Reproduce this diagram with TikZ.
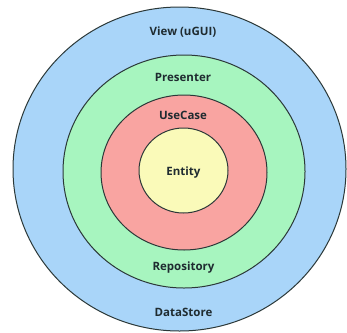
\documentclass[tikz,border=0pt]{standalone}
\usepackage{fontspec}
\setmainfont{Open Sans}
\definecolor{ringblue}{HTML}{A9D5F9}
\definecolor{ringgreen}{HTML}{A7F5BF}
\definecolor{ringred}{HTML}{F9A4A1}
\definecolor{ringyellow}{HTML}{FAFAB9}
\definecolor{ringline}{HTML}{2B3838}
\definecolor{labeltext}{HTML}{1F2B30}
\begin{document}
\begin{tikzpicture}[x=1pt,y=-1pt,
  ring/.style={draw=ringline,line width=1pt},
  layer/.style={font=\bfseries\fontsize{11.5}{13}\selectfont,text=labeltext,inner sep=0pt}]
\useasboundingbox (0,0) rectangle (347,332);
\begin{scope}
  \clip (0,0) rectangle (347,332);
  \fill[white] (0,0) rectangle (347,332);
  % concentric layers, outermost first
  \draw[ring,fill=ringblue]   (179.5,169) ellipse [x radius=166.5,y radius=162];
  \draw[ring,fill=ringgreen]  (184,171.5) ellipse [x radius=121,y radius=116.5];
  \draw[ring,fill=ringred]    (184,172.5) ellipse [x radius=83,y radius=77.5];
  \draw[ring,fill=ringyellow] (183.5,170.5) ellipse [x radius=44.5,y radius=42.5];
\end{scope}
\node[layer] (view)   at (183,32)  {View (uGUI)};
\node[layer] (pres)   at (183,77)  {Presenter};
\node[layer] (usec)   at (183,115.5) {UseCase};
\node[layer] (ent)    at (183.5,172.5) {Entity};
\node[layer] (repo)   at (183.5,268) {Repository};
\node[layer] (store)  at (183.5,312) {DataStore};
\end{tikzpicture}
\end{document}
